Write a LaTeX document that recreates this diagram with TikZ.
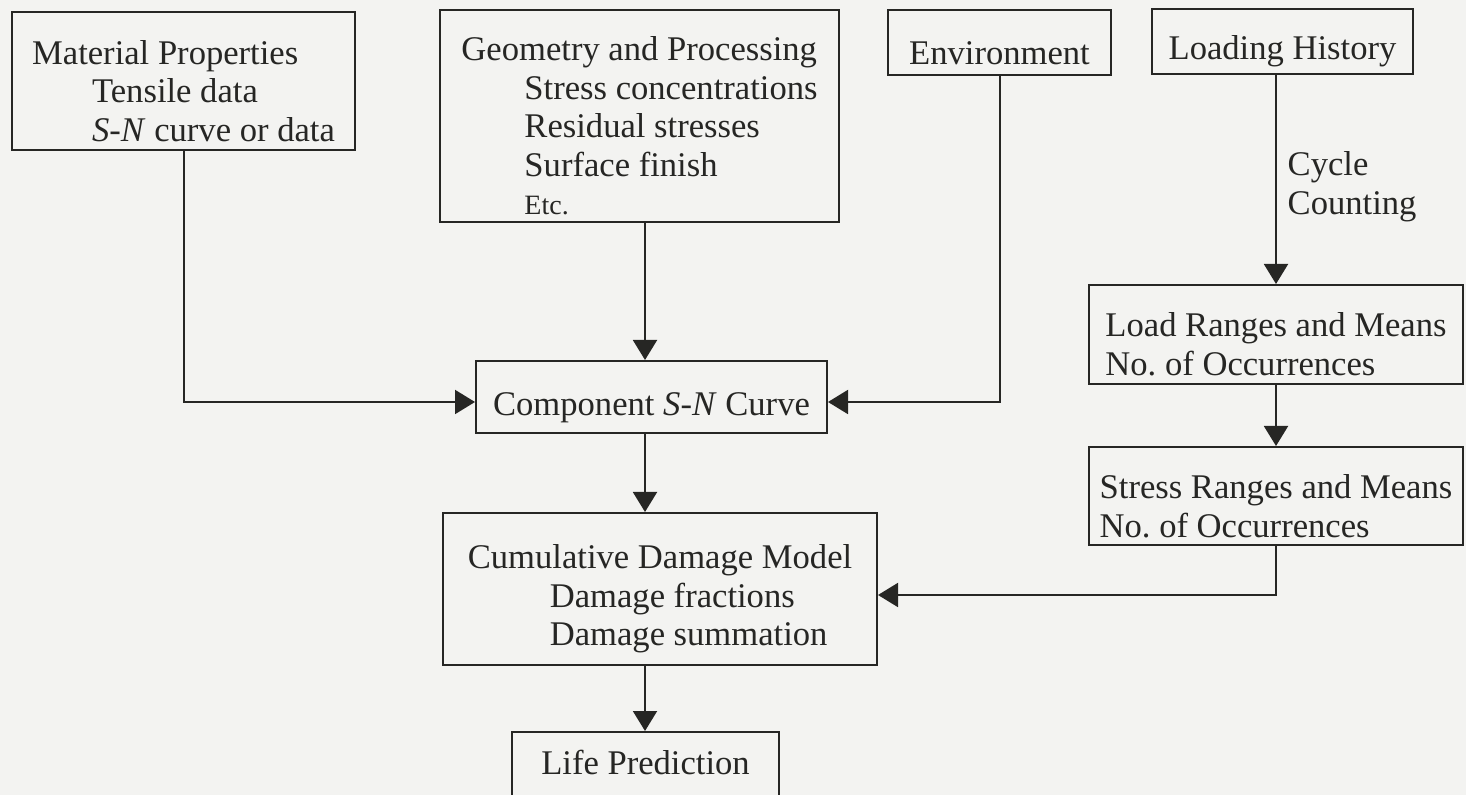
\documentclass[tikz,border=0pt]{standalone}
\usepackage{fontspec}
\setmainfont{Liberation Serif}
\usetikzlibrary{arrows.meta,positioning,calc}
\definecolor{paper}{RGB}{243,243,241}
\definecolor{ink}{RGB}{38,38,36}
\newcommand{\topgap}{\rule{0pt}{22pt}}

\begin{document}
\begin{tikzpicture}[x=0.5pt, y=-0.5pt,
  box/.style={draw=ink, line width=1pt, text=ink, align=left, inner xsep=4pt, inner ysep=0pt,
    font=\fontsize{17.3}{19.3}\selectfont},
  flow/.style={draw=ink, line width=1pt, -{Triangle[length=10pt,width=12pt]}},
  note/.style={text=ink, align=left, font=\fontsize{17.3}{19.3}\selectfont}]
\fill[paper] (0,0) rectangle (1466,795);
\useasboundingbox (0,0) rectangle (1466,795);

% 输入
\node[box, minimum width=171.5pt, minimum height=69pt] (mat) at (183.5,81) {\topgap Material Properties\\\hspace*{30pt}Tensile data\\\hspace*{30pt}\textit{S-N} curve or data};
\node[box, minimum width=199.5pt, minimum height=106pt] (geo) at (639.5,116) {\topgap Geometry and Processing\\\hspace*{31.5pt}Stress concentrations\\\hspace*{31.5pt}Residual stresses\\\hspace*{31.5pt}Surface finish\\\hspace*{31.5pt}{\fontsize{14}{19.3}\selectfont Etc.}};
\node[box, align=center, minimum width=111.5pt, minimum height=32.5pt] (env) at (999.5,42.5) {\topgap Environment};
\node[box, align=center, minimum width=130.5pt, minimum height=32.5pt] (hist) at (1282.5,41.5) {\topgap Loading History};

% 中间结果
\node[box, align=center, minimum width=175.5pt, minimum height=36pt] (comp) at (651.5,397) {\topgap Component \textit{S-N} Curve};
\node[box, minimum width=187pt, minimum height=49.5pt] (load) at (1276,334.5) {\topgap Load Ranges and Means\\No.\ of Occurrences};
\node[box, minimum width=187pt, minimum height=49pt] (stress) at (1276,496) {\topgap Stress Ranges and Means\\No.\ of Occurrences};
\node[box, minimum width=217pt, minimum height=76pt] (cum) at (660,589) {\topgap Cumulative Damage Model\\\hspace*{41pt}Damage fractions\\\hspace*{41pt}Damage summation};
\node[box, align=center, minimum width=133.5pt, minimum height=33pt] (life) at (645.5,765) {\raisebox{2.5pt}{Life Prediction}};

% 连接
\coordinate (spine) at (645,0);
\draw[flow] (mat.south) |- ([yshift=-2.5pt]comp.west);
\draw[flow] (geo.south -| spine) -- (comp.north -| spine);
\draw[flow] (env.south) |- ([yshift=-2.5pt]comp.east);
\draw[flow] (hist.south -| load.north) -- (load.north) node[note, midway, right=2pt, yshift=-3.5pt] {Cycle\\Counting};
\draw[flow] (load.south) -- (stress.north);
\draw[flow] (stress.south) |- ([yshift=-3pt]cum.east);
\draw[flow] (comp.south -| spine) -- (cum.north -| spine);
\draw[flow] (cum.south -| spine) -- (life.north -| spine);
\end{tikzpicture}
\end{document}
